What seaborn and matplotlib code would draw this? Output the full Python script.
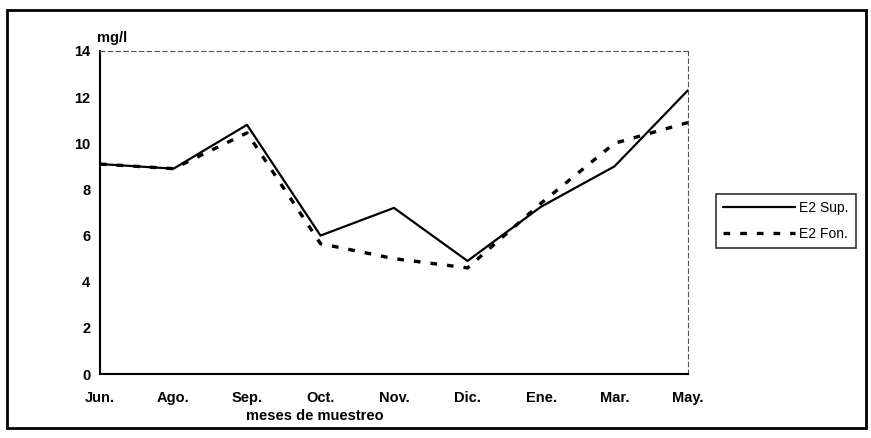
import matplotlib
matplotlib.use("Agg")
import matplotlib.pyplot as plt
import seaborn as sns
import pandas as pd
from matplotlib.patches import Rectangle

months = ["Jun.", "Ago.", "Sep.", "Oct.", "Nov.", "Dic.", "Ene.", "Mar.", "May."]
sup = [9.1, 8.9, 10.8, 6.0, 7.2, 4.9, 7.25, 9.0, 12.3]
fon = [9.1, 8.9, 10.45, 5.65, 5.0, 4.6, 7.4, 10.0, 10.9]
series_names = ["E2 Sup.", "E2 Fon."]

sns.set_theme(style="white")
plt.rcParams['font.family'] = ['Liberation Sans', 'DejaVu Sans']
plt.rcParams['text.color'] = 'black'
plt.rcParams['xtick.color'] = 'black'
plt.rcParams['ytick.color'] = 'black'

df = pd.DataFrame({
    "x": list(range(len(months))) * 2,
    "val": sup + fon,
    "serie": [series_names[0]] * len(months) + [series_names[1]] * len(months),
})

fig = plt.figure(figsize=(8.71, 4.38), dpi=100)
ax = fig.add_axes([100/871, 1 - 374/438, (688-100)/871, (374-51)/438])

sns.lineplot(data=df, x="x", y="val", hue="serie", style="serie",
             palette=["black", "black"],
             dashes={series_names[0]: "", series_names[1]: (2, 3)},
             ax=ax, legend=False)
lines = ax.get_lines()
lines[0].set_linewidth(1.6)
lines[1].set_linewidth(2.4)

ax.set_xlim(0, len(months) - 1)
ax.set_ylim(0, 14)
ax.set_yticks(range(0, 15, 2))
ax.set_xticks(range(len(months)))
ax.set_xticklabels(months)
ax.tick_params(axis='both', direction='inout', length=6, width=1, colors='black',
               labelsize=10.5, pad=4)
ax.tick_params(axis='x', pad=9)
for lab in ax.get_xticklabels() + ax.get_yticklabels():
    lab.set_fontweight('bold')
ax.set_xlabel("")
ax.set_ylabel("")
ax.spines['left'].set_linewidth(1.5)
ax.spines['bottom'].set_linewidth(1.5)
ax.spines['left'].set_color('black')
ax.spines['bottom'].set_color('black')
for s in ['top', 'right']:
    ax.spines[s].set_linestyle((0, (4, 3)))
    ax.spines[s].set_color('#555555')
    ax.spines[s].set_linewidth(0.8)

fig.text(97/871, 1 - 38/438, "mg/l", fontsize=10.5, fontweight='bold', ha='left', va='center')
fig.text(315/871, 1 - 416/438, "meses de muestreo", fontsize=10.5, fontweight='bold',
         ha='center', va='center')

handles = [plt.Line2D([], [], color='black', lw=1.6),
           plt.Line2D([], [], color='black', lw=2.4, dashes=(2, 3))]
leg = fig.legend(handles, series_names, loc='center left',
                 bbox_to_anchor=(716/871, 1 - 221/438), frameon=True,
                 fancybox=False, edgecolor='black', fontsize=10,
                 handlelength=5.2, handletextpad=0.3, borderpad=0.5,
                 labelspacing=0.9, borderaxespad=0)
leg.get_frame().set_linewidth(1.2)
for t in leg.get_texts():
    t.set_color('black')

fig.patches.append(Rectangle((7/871, 1 - 428/438), (866-7)/871, (428-10)/438,
                             transform=fig.transFigure, fill=False,
                             edgecolor='black', linewidth=2))

fig.savefig("out.png", dpi=100)
